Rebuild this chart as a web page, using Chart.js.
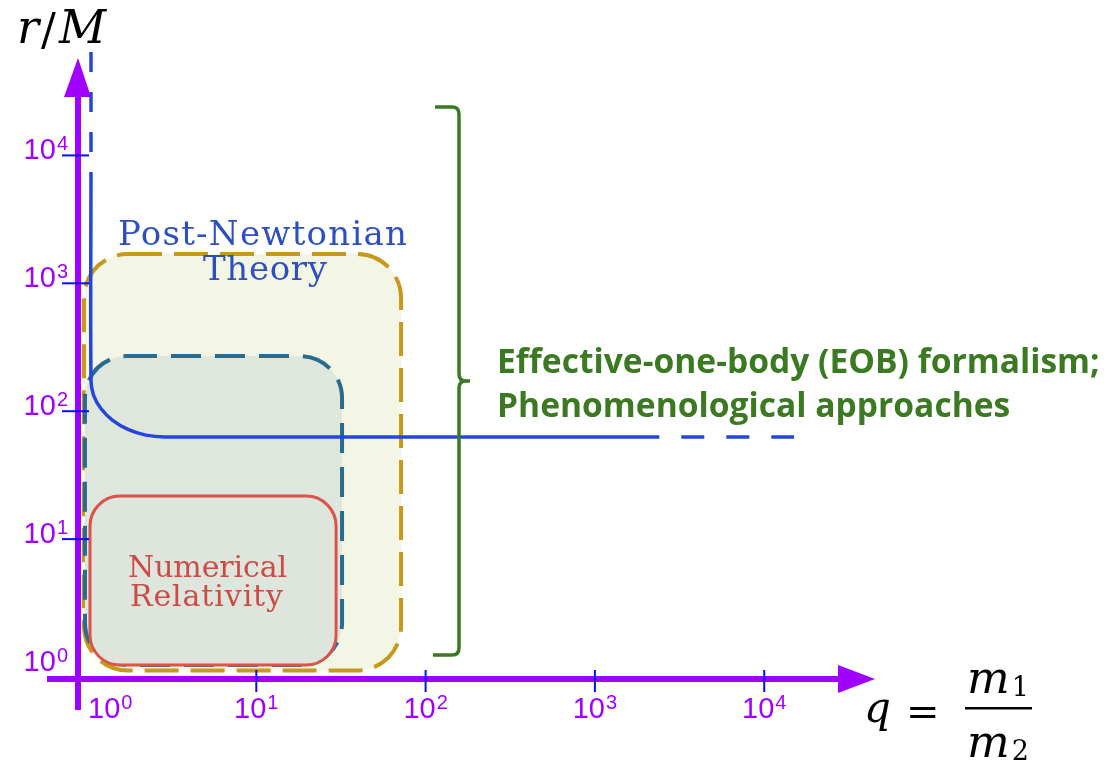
<!DOCTYPE html>
<html>
<head>
<meta charset="utf-8">
<script src="https://cdn.jsdelivr.net/npm/chart.js@4/dist/chart.umd.min.js"></script>
<style>
  html, body { margin: 0; padding: 0; background: #ffffff; }
  canvas { display: block; }
</style>
</head>
<body>
<canvas id="c" width="1113" height="764"></canvas>
<script>
// Logarithmic axis ranges: mass ratio q = m1/m2 and separation r/M
const qRange = [0.885, 45100];
const rRange = [0.806, 57750];

// Decade ticks on both axes
const qTicks = [1, 10, 100, 1000, 10000];
const rTicks = [1, 10, 100, 1000, 10000];

// Post-Newtonian validity boundary: solid part (vertical branch, knee, plateau)
const qTrack = [1.056, 1.056, 1.092, 1.208, 1.418, 1.747, 2.228, 2.888, 2400];
const rTrack = [7420, 175, 134, 105, 84.9, 72.1, 65.0, 63, 63];
// ...and its dashed continuations (towards large r and towards large q)
const qUpper = [1.056, 1.056];
const rUpper = [64300, 7420];
const qTail = [2400, 15000];
const rTail = [63, 63];

// Regions of parameter space [min, max]
const pnRegionQ = [0.960, 71.6];
const pnRegionR = [0.939, 1695];
const midRegionQ = [0.973, 32.1];
const midRegionR = [1.037, 270];
const nrRegionQ = [1.042, 29.6];
const nrRegionR = [1.037, 21.7];

// Annotations
const pnLabel = ['Post-Newtonian', 'Theory'];
const nrLabel = ['Numerical', 'Relativity'];
const eobLabel = ['Effective-one-body (EOB) formalism;', 'Phenomenological approaches'];

const PURPLE = '#a000ff';
const TICK_BLUE = '#0a0aff';
const PN_BLUE = '#2447d9';
const MATH = '"DejaVu Serif", serif';

const toPoints = (qs, rs) => qs.map((q, i) => ({ x: q, y: rs[i] }));

function drawRegion(ctx, xs, ys, qr, rr, st) {
  const x0 = xs.getPixelForValue(qr[0]);
  const x1 = xs.getPixelForValue(qr[1]);
  const yTop = ys.getPixelForValue(rr[1]);
  const yBot = ys.getPixelForValue(rr[0]);
  ctx.save();
  ctx.beginPath();
  ctx.roundRect(x0, yTop, x1 - x0, yBot - yTop, st.radius);
  ctx.fillStyle = st.fill;
  ctx.fill();
  ctx.setLineDash(st.dash || []);
  ctx.lineWidth = st.width;
  ctx.strokeStyle = st.stroke;
  ctx.stroke();
  ctx.restore();
}

// Centered text spread to a given width through letter spacing
function spacedText(ctx, text, cx, base, width) {
  ctx.letterSpacing = '0px';
  const w = ctx.measureText(text).width;
  const ls = (width - w) / (text.length - 1);
  ctx.letterSpacing = ls + 'px';
  ctx.textAlign = 'left';
  ctx.fillText(text, cx - width / 2, base);
  ctx.letterSpacing = '0px';
}

// "10" with a raised exponent; anchor is 'right', 'center' or 'left'
function powerLabel(ctx, exp, x, base, anchor) {
  const mainFont = '29px "Liberation Sans", Arial, sans-serif';
  const supFont = '20px "Liberation Sans", Arial, sans-serif';
  ctx.fillStyle = PURPLE;
  ctx.textAlign = 'left';
  ctx.font = mainFont;
  const wMain = ctx.measureText('10').width;
  ctx.font = supFont;
  const wSup = ctx.measureText(String(exp)).width;
  const total = wMain + 1 + wSup;
  let left = x;
  if (anchor === 'right') left = x - total;
  else if (anchor === 'center') left = x - total / 2;
  ctx.font = mainFont;
  ctx.fillText('10', left, base);
  ctx.font = supFont;
  ctx.fillText(String(exp), left + wMain + 1, base - 9);
}

// Italic symbol with an upright subscript digit, centred on cx
function subscripted(ctx, sym, sub, cx, base) {
  ctx.font = 'italic 45px ' + MATH;
  const ws = ctx.measureText(sym).width;
  ctx.font = '27px ' + MATH;
  const wd = ctx.measureText(sub).width;
  const left = cx - (ws + 2 + wd) / 2;
  ctx.font = 'italic 45px ' + MATH;
  ctx.fillText(sym, left, base);
  ctx.font = '27px ' + MATH;
  ctx.fillText(sub, left + ws + 2, base + 3);
}

const diagram = {
  id: 'diagram',
  beforeDatasetsDraw(chart) {
    const { ctx, scales: { x, y } } = chart;
    drawRegion(ctx, x, y, pnRegionQ, pnRegionR,
      { fill: '#f4f6e5', stroke: '#c8981c', width: 4, dash: [34, 12], radius: 44 });
    drawRegion(ctx, x, y, midRegionQ, midRegionR,
      { fill: '#dfe6dd', stroke: '#286b90', width: 4, dash: [30, 14], radius: 42 });
    drawRegion(ctx, x, y, nrRegionQ, nrRegionR,
      { fill: '#dee5dc', stroke: '#d9544c', width: 3, dash: [], radius: 30 });
  },
  afterDatasetsDraw(chart) {
    const { ctx, chartArea: ca, scales: { x, y } } = chart;
    ctx.save();

    // Region captions
    ctx.fillStyle = '#2d4fc0';
    ctx.font = '34px "DejaVu Serif", serif';
    spacedText(ctx, pnLabel[0], 262.5, 245, 289);
    spacedText(ctx, pnLabel[1], 265, 280, 124);

    ctx.fillStyle = '#cd4b45';
    ctx.font = '30px "DejaVu Serif", serif';
    spacedText(ctx, nrLabel[0], 207.5, 577, 159);
    spacedText(ctx, nrLabel[1], 206.5, 606, 153);

    // Curly brace spanning the EOB range
    ctx.strokeStyle = '#3b7a22';
    ctx.lineWidth = 3.5;
    ctx.lineJoin = 'round';
    ctx.beginPath();
    ctx.moveTo(435, 107);
    ctx.lineTo(452, 107);
    ctx.quadraticCurveTo(459, 107, 459, 114);
    ctx.lineTo(459, 374);
    ctx.quadraticCurveTo(459, 381, 466, 381);
    ctx.lineTo(470, 381);
    ctx.moveTo(466, 381);
    ctx.quadraticCurveTo(459, 381, 459, 388);
    ctx.lineTo(459, 648);
    ctx.quadraticCurveTo(459, 655, 452, 655);
    ctx.lineTo(433, 655);
    ctx.stroke();

    // EOB caption
    ctx.fillStyle = '#3b7a22';
    ctx.font = 'bold 32px "Open Sans", sans-serif';
    const w1 = ctx.measureText(eobLabel[0]).width;
    const size = 32 * 603 / w1;
    ctx.font = 'bold ' + size.toFixed(2) + 'px "Open Sans", sans-serif';
    ctx.textAlign = 'left';
    ctx.fillText(eobLabel[0], 497, 373);
    ctx.fillText(eobLabel[1], 497, 417);

    // Axes with arrow heads
    const ax = ca.left, ay = ca.bottom;
    ctx.strokeStyle = PURPLE;
    ctx.fillStyle = PURPLE;
    ctx.lineWidth = 6;
    ctx.beginPath();
    ctx.moveTo(ax, 710);
    ctx.lineTo(ax, ca.top + 39);
    ctx.moveTo(47, ay);
    ctx.lineTo(ca.right - 37, ay);
    ctx.stroke();
    ctx.beginPath();
    ctx.moveTo(ax, ca.top);
    ctx.lineTo(ax - 14, ca.top + 39);
    ctx.lineTo(ax + 13, ca.top + 39);
    ctx.closePath();
    ctx.fill();
    ctx.beginPath();
    ctx.moveTo(ca.right, ay);
    ctx.lineTo(ca.right - 37, ay - 14);
    ctx.lineTo(ca.right - 37, ay + 14);
    ctx.closePath();
    ctx.fill();

    // Decade ticks and labels
    rTicks.forEach(v => {
      const py = y.getPixelForValue(v);
      const e = Math.round(Math.log10(v));
      if (e > 0) {
        ctx.strokeStyle = TICK_BLUE;
        ctx.lineWidth = 2;
        ctx.beginPath();
        ctx.moveTo(62, py);
        ctx.lineTo(89, py);
        ctx.stroke();
      }
      powerLabel(ctx, e, 68, py + 4, 'right');
    });
    qTicks.forEach(v => {
      const px = x.getPixelForValue(v);
      const e = Math.round(Math.log10(v));
      if (e > 0) {
        ctx.strokeStyle = TICK_BLUE;
        ctx.lineWidth = 2;
        ctx.beginPath();
        ctx.moveTo(px, ay - 9);
        ctx.lineTo(px, ay + 13);
        ctx.stroke();
        powerLabel(ctx, e, px, 718, 'center');
      } else {
        powerLabel(ctx, e, Math.max(px - 22, ax + 10), 718, 'left');
      }
    });

    // Axis titles
    ctx.fillStyle = '#000000';
    ctx.textAlign = 'left';
    ctx.font = 'italic 46px ' + MATH;
    ctx.fillText('r', 17, 43);
    ctx.font = '44px ' + MATH;
    ctx.fillText('/', 41, 45);
    ctx.font = 'italic 46px ' + MATH;
    ctx.fillText('M', 59, 43);

    ctx.font = 'italic 42px ' + MATH;
    ctx.fillText('q', 864, 722);
    ctx.font = '40px ' + MATH;
    ctx.fillText('=', 906, 725);
    subscripted(ctx, 'm', '1', 998, 693);
    subscripted(ctx, 'm', '2', 998, 757);
    ctx.fillRect(965, 707, 67, 2.5);

    ctx.restore();
  }
};

const lineStyle = {
  showLine: true,
  borderColor: PN_BLUE,
  borderWidth: 3.5,
  pointRadius: 0,
  clip: false
};

new Chart(document.getElementById('c'), {
  type: 'scatter',
  data: {
    datasets: [
      Object.assign({ data: toPoints(qUpper, rUpper), borderDash: [20, 20] }, lineStyle),
      Object.assign({ data: toPoints(qTrack, rTrack), tension: 0.3 }, lineStyle),
      Object.assign({ data: toPoints(qTail, rTail), borderDash: [23, 22], borderDashOffset: 23 }, lineStyle)
    ]
  },
  options: {
    responsive: false,
    animation: false,
    events: [],
    layout: { padding: { left: 78, right: 1113 - 875, top: 58, bottom: 764 - 679 } },
    scales: {
      x: { type: 'logarithmic', min: qRange[0], max: qRange[1], display: false },
      y: { type: 'logarithmic', min: rRange[0], max: rRange[1], display: false }
    },
    plugins: { legend: { display: false }, tooltip: { enabled: false } }
  },
  plugins: [diagram]
});
</script>
</body>
</html>
